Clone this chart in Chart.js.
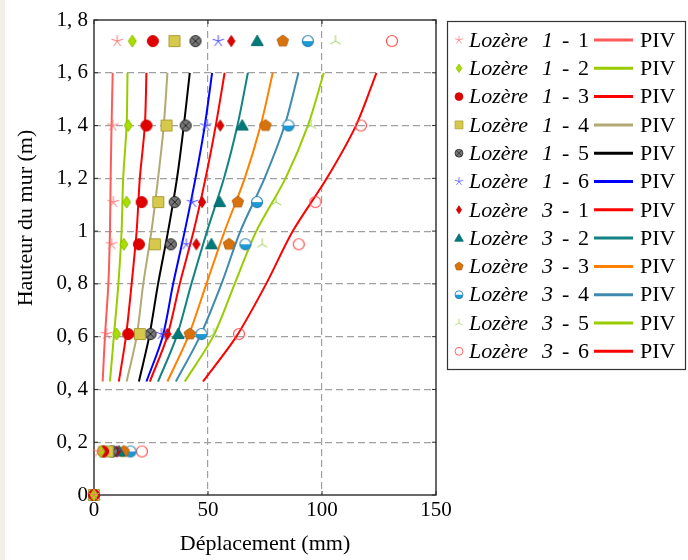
<!DOCTYPE html>
<html>
<head>
<meta charset="utf-8">
<script src="https://cdn.jsdelivr.net/npm/chart.js@4"></script>
<style>
  html, body { margin: 0; padding: 0; background: #f2efe9; }
  #wrap { position: absolute; left: 0; top: 0; width: 688px; height: 560px; }
</style>
</head>
<body>
<div id="wrap"><canvas id="chart" width="688" height="560"></canvas></div>
<script>
// heights (m) of the measured points and of the PIV profiles
var heightsPts = [0, 0.165, 0.61, 0.95, 1.11, 1.40, 1.72];
var heightsPiv = [0.43, 0.6, 0.8, 1.0, 1.2, 1.4, 1.6];

var xTicks = [0, 50, 100, 150];
var xTickLabels = ['0', '50', '100', '150'];
var yTickLabels = ['0', '0, 2', '0, 4', '0, 6', '0, 8', '1', '1, 2', '1, 4', '1, 6', '1, 8'];

var groups = ['1', '1', '1', '1', '1', '1', '3', '3', '3', '3', '3', '3'];
var runs = ['1', '2', '3', '4', '5', '6', '1', '2', '3', '4', '5', '6'];

// displacement (mm) of measured points
var pts11 = [0, 2, 5.5, 7.7, 8.5, 8.2, 10.2];
var pts12 = [0, 3, 9.9, 13.1, 14.3, 15.0, 16.8];
var pts13 = [0, 4, 15.0, 19.7, 20.9, 23.0, 25.8];
var pts14 = [0, 6, 20.1, 26.7, 28.2, 31.8, 35.3];
var pts15 = [0, 8, 24.8, 33.7, 35.4, 40.2, 44.5];
var pts16 = [0, 9, 29.6, 40.5, 43.2, 49.0, 54.5];
var pts31 = [0, 10, 32.2, 44.9, 47.4, 55.4, 60.2];
var pts32 = [0, 11, 36.9, 51.5, 55.1, 65.0, 71.6];
var pts33 = [0, 13, 42.0, 59.2, 63.1, 75.2, 82.8];
var pts34 = [0, 16, 47.1, 66.4, 71.5, 85.3, 93.8];
var pts35 = [0, 14, 52.5, 73.8, 79.9, 95.2, 105.9];
var pts36 = [0, 21, 63.6, 89.8, 97.1, 117.1, 130.7];

// displacement (mm) of PIV profiles
var piv11 = [3.8, 4.8, 6.3, 7.0, 7.3, 7.7, 8.2];
var piv12 = [7.0, 8.7, 10.7, 12.1, 12.8, 14.3, 14.7];
var piv13 = [10.9, 14.0, 16.5, 18.7, 20.1, 22.3, 23.0];
var piv14 = [14.3, 18.7, 21.6, 25.2, 28.1, 30.6, 32.2];
var piv15 = [19.7, 24.2, 28.1, 32.5, 36.4, 39.4, 42.0];
var piv16 = [23.0, 30.1, 34.7, 39.8, 44.5, 48.6, 51.8];
var piv31 = [24.5, 32.1, 37.6, 43.7, 48.9, 53.4, 57.3];
var piv32 = [28.1, 36.2, 42.7, 49.6, 57.0, 62.9, 67.5];
var piv33 = [32.2, 41.3, 49.3, 57.3, 66.1, 73.1, 78.4];
var piv34 = [35.9, 46.4, 55.9, 64.2, 74.8, 83.6, 89.7];
var piv35 = [39.8, 52.2, 61.7, 71.2, 84.0, 93.8, 100.8];
var piv36 = [47.8, 62.4, 75.5, 87.2, 102.1, 114.9, 123.9];

var ptsSeries = [pts11, pts12, pts13, pts14, pts15, pts16, pts31, pts32, pts33, pts34, pts35, pts36];
var pivSeries = [piv11, piv12, piv13, piv14, piv15, piv16, piv31, piv32, piv33, piv34, piv35, piv36];

var lineColors = ['#ff5a5a', '#99cc00', '#ff0000', '#b2aa74', '#000000', '#0000ff',
                  '#ff0000', '#128282', '#ff8000', '#3f8aae', '#99cc00', '#ff0000'];

var markStyles = [
    {kind: 'star', stroke: '#ff6f6f'},
    {kind: 'diamond', fill: '#aadd00', stroke: '#8cbc00', w: 4, h: 6},
    {kind: 'dot', fill: '#e00000', stroke: '#c80000'},
    {kind: 'square', fill: '#d6c94c', stroke: '#ab9f34'},
    {kind: 'otimes', fill: '#777777', stroke: '#222222'},
    {kind: 'star', stroke: '#4848ff'},
    {kind: 'diamond', fill: '#e00000', stroke: '#c00000', w: 3.6, h: 5.6},
    {kind: 'triangle', fill: '#007a7a', stroke: '#006a6a'},
    {kind: 'pentagon', fill: '#d8720c', stroke: '#b85f08'},
    {kind: 'half', fill: '#1a9ad6', stroke: '#2a80b0'},
    {kind: 'tri', stroke: '#9ed05a'},
    {kind: 'ocircle', stroke: '#ff4c4c'}
];

var serif = "'Liberation Serif', 'Times New Roman', serif";

function drawShape(g, i, x, y, k) {
    var m = markStyles[i];
    var a, j;
    g.save();
    g.translate(x, y);
    g.scale(k, k);
    g.lineWidth = 1;
    g.strokeStyle = m.stroke;
    if (m.fill) g.fillStyle = m.fill;
    g.beginPath();
    if (m.kind === 'star') {
        for (j = 0; j < 5; j++) {
            a = -Math.PI / 2 + j * 2 * Math.PI / 5;
            g.moveTo(0, 0);
            g.lineTo(6 * Math.cos(a), 6 * Math.sin(a));
        }
        g.stroke();
    } else if (m.kind === 'tri') {
        for (j = 0; j < 3; j++) {
            a = -Math.PI / 2 + j * 2 * Math.PI / 3;
            g.moveTo(0, 0);
            g.lineTo(6 * Math.cos(a), 6 * Math.sin(a));
        }
        g.stroke();
    } else if (m.kind === 'diamond') {
        g.moveTo(0, -m.h); g.lineTo(m.w, 0); g.lineTo(0, m.h); g.lineTo(-m.w, 0);
        g.closePath(); g.fill(); g.stroke();
    } else if (m.kind === 'dot') {
        g.arc(0, 0, 5.5, 0, 2 * Math.PI);
        g.fill(); g.stroke();
    } else if (m.kind === 'square') {
        g.rect(-5.5, -5.5, 11, 11);
        g.fill(); g.stroke();
    } else if (m.kind === 'otimes') {
        g.arc(0, 0, 5.5, 0, 2 * Math.PI);
        g.fill(); g.stroke();
        g.beginPath();
        g.moveTo(-3.9, -3.9); g.lineTo(3.9, 3.9);
        g.moveTo(3.9, -3.9); g.lineTo(-3.9, 3.9);
        g.stroke();
    } else if (m.kind === 'triangle') {
        g.moveTo(0, -6); g.lineTo(6, 4.4); g.lineTo(-6, 4.4);
        g.closePath(); g.fill(); g.stroke();
    } else if (m.kind === 'pentagon') {
        for (j = 0; j < 5; j++) {
            a = -Math.PI / 2 + j * 2 * Math.PI / 5;
            g.lineTo(6 * Math.cos(a), 6 * Math.sin(a));
        }
        g.closePath(); g.fill(); g.stroke();
    } else if (m.kind === 'half') {
        g.arc(0, 0, 5.5, 0, 2 * Math.PI);
        g.fillStyle = '#ffffff'; g.fill();
        g.beginPath();
        g.arc(0, 0, 5.5, 0, Math.PI);
        g.closePath();
        g.fillStyle = m.fill; g.fill();
        g.beginPath();
        g.arc(0, 0, 5.5, 0, 2 * Math.PI);
        g.lineWidth = 1.2; g.stroke();
    } else if (m.kind === 'ocircle') {
        g.arc(0, 0, 5.5, 0, 2 * Math.PI);
        g.lineWidth = 1.2; g.stroke();
    }
    g.restore();
}

var markImages = markStyles.map(function (m, i) {
    var c = document.createElement('canvas');
    c.width = 18; c.height = 18;
    drawShape(c.getContext('2d'), i, 9, 9, 1);
    return c;
});

var markSets = ptsSeries.map(function (xs, i) {
    return {
        label: 'Lozère ' + groups[i] + ' - ' + runs[i],
        data: xs.map(function (v, j) { return {x: v, y: heightsPts[j]}; }),
        showLine: false,
        pointStyle: markImages[i],
        pointRadius: 6,
        clip: false
    };
});

var pivSets = pivSeries.map(function (xs, i) {
    return {
        label: 'PIV',
        data: xs.map(function (v, j) { return {x: v, y: heightsPiv[j]}; }),
        showLine: true,
        pointRadius: 0,
        borderColor: lineColors[i],
        borderWidth: 2,
        tension: 0.3,
        fill: false
    };
});

// white sheet, frame, inner ticks, axis titles and the two-column legend
var decor = {
    id: 'decor',
    beforeDraw: function (chart) {
        var g = chart.ctx;
        g.save();
        g.fillStyle = '#ffffff';
        g.fillRect(5, 0, chart.width - 5, chart.height);
        g.restore();
    },
    beforeDatasetsDraw: function (chart) {
        var g = chart.ctx, a = chart.chartArea;
        var xs = chart.scales.x, ys = chart.scales.y;
        g.save();
        g.strokeStyle = '#2a2a2a';
        g.lineWidth = 1.4;
        g.strokeRect(a.left, a.top, a.right - a.left, a.bottom - a.top);
        g.lineWidth = 1;
        g.beginPath();
        ys.ticks.forEach(function (t) {
            var p = ys.getPixelForValue(t.value);
            g.moveTo(a.left, p); g.lineTo(a.left + 4, p);
            g.moveTo(a.right, p); g.lineTo(a.right - 4, p);
        });
        xs.ticks.forEach(function (t) {
            var p = xs.getPixelForValue(t.value);
            g.moveTo(p, a.bottom); g.lineTo(p, a.bottom - 4);
            g.moveTo(p, a.top); g.lineTo(p, a.top + 4);
        });
        g.stroke();
        g.restore();
    },
    afterDraw: function (chart) {
        var g = chart.ctx, a = chart.chartArea;
        var i, cy;
        g.save();
        g.fillStyle = '#000';
        g.font = '22px ' + serif;
        g.textAlign = 'center';
        g.textBaseline = 'middle';
        g.fillText('Déplacement (mm)', (a.left + a.right) / 2, 544);
        g.save();
        g.translate(26, 218);
        g.rotate(-Math.PI / 2);
        g.fillText('Hauteur du mur (m)', 0, 0);
        g.restore();

        g.strokeStyle = '#333';
        g.lineWidth = 1.2;
        g.strokeRect(447.5, 21.5, 238, 348);
        g.textAlign = 'left';
        for (i = 0; i < markStyles.length; i++) {
            cy = 40 + i * 28.3;
            drawShape(g, i, 459, cy, 0.72);
            g.fillStyle = '#000';
            g.font = 'italic 22px ' + serif;
            g.fillText('Lozère', 469, cy + 1);
            g.fillText(groups[i], 542, cy + 1);
            g.font = '22px ' + serif;
            g.fillText('-', 562, cy + 1);
            g.fillText(runs[i], 578, cy + 1);
            g.fillText('PIV', 640, cy + 1);
            g.strokeStyle = lineColors[i];
            g.lineWidth = 3;
            g.beginPath();
            g.moveTo(594, cy); g.lineTo(633, cy);
            g.stroke();
        }
        g.restore();
    }
};

var gridColor = function (n) {
    return function (ctx) {
        return (ctx.index === 0 || ctx.index === n - 1) ? 'rgba(0,0,0,0)' : '#a0a0a0';
    };
};

var ctx1 = document.getElementById('chart').getContext('2d');
var chart = new Chart(ctx1, {
    type: 'scatter',
    data: { datasets: markSets.concat(pivSets) },
    plugins: [decor],
    options: {
        responsive: false,
        animation: false,
        layout: { padding: { left: 0, top: 20, right: 252, bottom: 0 } },
        plugins: { legend: { display: false }, tooltip: { enabled: false } },
        scales: {
            x: {
                type: 'linear', min: 0, max: 150,
                ticks: {
                    stepSize: 50, padding: 3, color: '#000',
                    font: { family: serif, size: 21 },
                    callback: function (v) {
                        var k = xTicks.indexOf(v);
                        return k < 0 ? '' : xTickLabels[k];
                    }
                },
                grid: { color: gridColor(4), lineWidth: 1.2, drawTicks: false },
                border: { display: false, dash: [7, 4] },
                afterFit: function (s) { s.height = 65; }
            },
            y: {
                type: 'linear', min: 0, max: 1.8,
                ticks: {
                    stepSize: 0.2, padding: 6, color: '#000',
                    font: { family: serif, size: 21 },
                    callback: function (v, idx) { return yTickLabels[idx]; }
                },
                grid: { color: gridColor(10), lineWidth: 1.2, drawTicks: false },
                border: { display: false, dash: [7, 4] },
                afterFit: function (s) { s.width = 94; }
            }
        }
    }
});
</script>
</body>
</html>
